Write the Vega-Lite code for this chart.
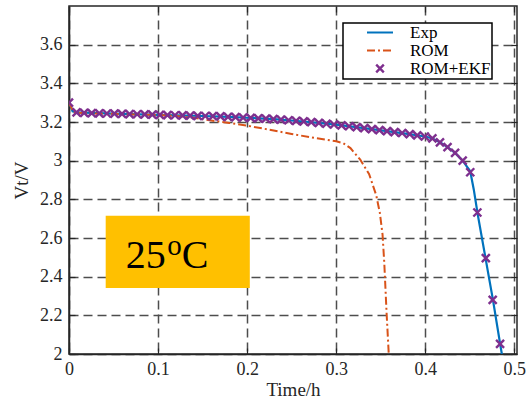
{
  "$schema": "https://vega.github.io/schema/vega-lite/v6.json",
  "width": 448,
  "height": 348,
  "autosize": {"type": "none"},
  "padding": {"left": 69, "top": 6, "right": 9, "bottom": 52},
  "background": "white",
  "config": {
    "view": {"stroke": "#262626", "strokeWidth": 1.5},
    "font": "Liberation Serif",
    "axis": {
      "labelFont": "Liberation Serif",
      "titleFont": "Liberation Serif",
      "labelFontSize": 18,
      "titleFontSize": 19,
      "titleFontWeight": "normal",
      "labelColor": "#262626",
      "titleColor": "#262626",
      "domainColor": "#262626",
      "domainWidth": 1.5,
      "tickColor": "#262626",
      "tickWidth": 1.2,
      "gridColor": "#4d4d4d",
      "gridWidth": 1.5,
      "gridOpacity": 1,
      "gridDash": [9, 5]
    }
  },
  "data": {
    "values": [
      {"s": "Exp", "t": 0.0, "v": 3.305},
      {"s": "Exp", "t": 0.004, "v": 3.255},
      {"s": "Exp", "t": 0.0085, "v": 3.25},
      {"s": "Exp", "t": 0.05, "v": 3.243},
      {"s": "Exp", "t": 0.1, "v": 3.237},
      {"s": "Exp", "t": 0.15, "v": 3.231},
      {"s": "Exp", "t": 0.18, "v": 3.227},
      {"s": "Exp", "t": 0.2, "v": 3.222},
      {"s": "Exp", "t": 0.23, "v": 3.215},
      {"s": "Exp", "t": 0.26, "v": 3.204},
      {"s": "Exp", "t": 0.3, "v": 3.186},
      {"s": "Exp", "t": 0.34, "v": 3.163},
      {"s": "Exp", "t": 0.38, "v": 3.139},
      {"s": "Exp", "t": 0.4, "v": 3.125},
      {"s": "Exp", "t": 0.408, "v": 3.115},
      {"s": "Exp", "t": 0.4165, "v": 3.095},
      {"s": "Exp", "t": 0.425, "v": 3.07},
      {"s": "Exp", "t": 0.4335, "v": 3.04},
      {"s": "Exp", "t": 0.442, "v": 3.0},
      {"s": "Exp", "t": 0.4505, "v": 2.945},
      {"s": "Exp", "t": 0.4545, "v": 2.85},
      {"s": "Exp", "t": 0.459, "v": 2.72},
      {"s": "Exp", "t": 0.4675, "v": 2.5},
      {"s": "Exp", "t": 0.476, "v": 2.28},
      {"s": "Exp", "t": 0.4845, "v": 2.04},
      {"s": "Exp", "t": 0.486, "v": 2.0},

      {"s": "ROM", "t": 0.0, "v": 3.3},
      {"s": "ROM", "t": 0.005, "v": 3.25},
      {"s": "ROM", "t": 0.02, "v": 3.245},
      {"s": "ROM", "t": 0.05, "v": 3.242},
      {"s": "ROM", "t": 0.1, "v": 3.236},
      {"s": "ROM", "t": 0.12, "v": 3.231},
      {"s": "ROM", "t": 0.14, "v": 3.222},
      {"s": "ROM", "t": 0.158, "v": 3.209},
      {"s": "ROM", "t": 0.18, "v": 3.195},
      {"s": "ROM", "t": 0.2, "v": 3.181},
      {"s": "ROM", "t": 0.225, "v": 3.16},
      {"s": "ROM", "t": 0.25, "v": 3.138},
      {"s": "ROM", "t": 0.275, "v": 3.118},
      {"s": "ROM", "t": 0.3, "v": 3.1},
      {"s": "ROM", "t": 0.308, "v": 3.09},
      {"s": "ROM", "t": 0.316, "v": 3.065},
      {"s": "ROM", "t": 0.327, "v": 3.005},
      {"s": "ROM", "t": 0.337, "v": 2.93},
      {"s": "ROM", "t": 0.345, "v": 2.82},
      {"s": "ROM", "t": 0.349, "v": 2.73},
      {"s": "ROM", "t": 0.352, "v": 2.62},
      {"s": "ROM", "t": 0.354, "v": 2.47},
      {"s": "ROM", "t": 0.3566, "v": 2.21},
      {"s": "ROM", "t": 0.359, "v": 2.0},

      {"s": "ROM+EKF", "t": 0.0, "v": 3.3},
      {"s": "ROM+EKF", "t": 0.0085, "v": 3.25},
      {"s": "ROM+EKF", "t": 0.017, "v": 3.247},
      {"s": "ROM+EKF", "t": 0.0255, "v": 3.246},
      {"s": "ROM+EKF", "t": 0.034, "v": 3.245},
      {"s": "ROM+EKF", "t": 0.0425, "v": 3.244},
      {"s": "ROM+EKF", "t": 0.051, "v": 3.243},
      {"s": "ROM+EKF", "t": 0.0595, "v": 3.242},
      {"s": "ROM+EKF", "t": 0.068, "v": 3.241},
      {"s": "ROM+EKF", "t": 0.0765, "v": 3.24},
      {"s": "ROM+EKF", "t": 0.085, "v": 3.239},
      {"s": "ROM+EKF", "t": 0.0935, "v": 3.238},
      {"s": "ROM+EKF", "t": 0.102, "v": 3.237},
      {"s": "ROM+EKF", "t": 0.1105, "v": 3.236},
      {"s": "ROM+EKF", "t": 0.119, "v": 3.235},
      {"s": "ROM+EKF", "t": 0.1275, "v": 3.234},
      {"s": "ROM+EKF", "t": 0.136, "v": 3.233},
      {"s": "ROM+EKF", "t": 0.1445, "v": 3.232},
      {"s": "ROM+EKF", "t": 0.153, "v": 3.231},
      {"s": "ROM+EKF", "t": 0.1615, "v": 3.23},
      {"s": "ROM+EKF", "t": 0.17, "v": 3.229},
      {"s": "ROM+EKF", "t": 0.1785, "v": 3.227},
      {"s": "ROM+EKF", "t": 0.187, "v": 3.225},
      {"s": "ROM+EKF", "t": 0.1955, "v": 3.223},
      {"s": "ROM+EKF", "t": 0.204, "v": 3.221},
      {"s": "ROM+EKF", "t": 0.2125, "v": 3.219},
      {"s": "ROM+EKF", "t": 0.221, "v": 3.217},
      {"s": "ROM+EKF", "t": 0.2295, "v": 3.215},
      {"s": "ROM+EKF", "t": 0.238, "v": 3.212},
      {"s": "ROM+EKF", "t": 0.2465, "v": 3.209},
      {"s": "ROM+EKF", "t": 0.255, "v": 3.206},
      {"s": "ROM+EKF", "t": 0.2635, "v": 3.203},
      {"s": "ROM+EKF", "t": 0.272, "v": 3.199},
      {"s": "ROM+EKF", "t": 0.2805, "v": 3.195},
      {"s": "ROM+EKF", "t": 0.289, "v": 3.191},
      {"s": "ROM+EKF", "t": 0.2975, "v": 3.187},
      {"s": "ROM+EKF", "t": 0.306, "v": 3.183},
      {"s": "ROM+EKF", "t": 0.3145, "v": 3.178},
      {"s": "ROM+EKF", "t": 0.323, "v": 3.173},
      {"s": "ROM+EKF", "t": 0.3315, "v": 3.168},
      {"s": "ROM+EKF", "t": 0.34, "v": 3.163},
      {"s": "ROM+EKF", "t": 0.3485, "v": 3.158},
      {"s": "ROM+EKF", "t": 0.357, "v": 3.153},
      {"s": "ROM+EKF", "t": 0.3655, "v": 3.148},
      {"s": "ROM+EKF", "t": 0.374, "v": 3.143},
      {"s": "ROM+EKF", "t": 0.3825, "v": 3.137},
      {"s": "ROM+EKF", "t": 0.391, "v": 3.131},
      {"s": "ROM+EKF", "t": 0.3995, "v": 3.125},
      {"s": "ROM+EKF", "t": 0.408, "v": 3.115},
      {"s": "ROM+EKF", "t": 0.4165, "v": 3.095},
      {"s": "ROM+EKF", "t": 0.425, "v": 3.07},
      {"s": "ROM+EKF", "t": 0.4335, "v": 3.04},
      {"s": "ROM+EKF", "t": 0.442, "v": 3.0},
      {"s": "ROM+EKF", "t": 0.4505, "v": 2.94},
      {"s": "ROM+EKF", "t": 0.4585, "v": 2.732},
      {"s": "ROM+EKF", "t": 0.468, "v": 2.496},
      {"s": "ROM+EKF", "t": 0.4757, "v": 2.28},
      {"s": "ROM+EKF", "t": 0.484, "v": 2.052}
    ]
  },
  "resolve": {"axis": {"x": "independent", "y": "independent"}},
  "layer": [
    {
      "transform": [{"filter": "datum.s === 'Exp'"}],
      "mark": {"type": "line", "strokeWidth": 2.2, "clip": true},
      "encoding": {
        "x": {
          "field": "t", "type": "quantitative",
          "scale": {"domain": [0, 0.503], "nice": false, "zero": false},
          "axis": {
            "title": "Time/h", "values": [0, 0.1, 0.2, 0.3, 0.4, 0.5], "format": "~g",
            "grid": true, "tickSize": -6, "labelPadding": 12, "titlePadding": 2, "labelFlush": false
          }
        },
        "y": {
          "field": "v", "type": "quantitative",
          "scale": {"domain": [2, 3.8], "nice": false, "zero": false},
          "axis": {
            "title": "Vt/V", "values": [2, 2.2, 2.4, 2.6, 2.8, 3, 3.2, 3.4, 3.6], "format": "~g",
            "grid": true, "tickSize": -6, "labelPadding": 13, "titlePadding": 8
          }
        },
        "color": {
          "field": "s", "type": "nominal",
          "scale": {"domain": ["Exp", "ROM", "ROM+EKF"], "range": ["#0072BD", "#D95319", "#7E2F8E"]},
          "legend": {
            "title": null,
            "orient": "none",
            "legendX": 274,
            "legendY": 17,
            "padding": 1,
            "rowPadding": 0,
            "symbolSize": 400,
            "labelFont": "Liberation Serif",
            "labelFontSize": 17,
            "labelColor": "black",
            "fillColor": "white",
            "strokeColor": "black",
            "symbolStrokeWidth": 2,
            "encode": {
              "legend": {"update": {"strokeWidth": {"value": 1.5}}},
              "symbols": {
                "update": {
                  "x": {"value": 36},
                  "shape": {"signal": "datum.value === 'ROM+EKF' ? 'M-0.38,-0.38L0.38,0.38M-0.38,0.38L0.38,-0.38' : 'M-1.3,0L1.3,0'"},
                  "strokeDash": {"signal": "datum.value === 'ROM' ? [8, 3, 2, 3] : []"},
                  "fill": {"value": "transparent"},
                  "fillOpacity": {"value": 0},
                  "strokeWidth": {"signal": "datum.value === 'ROM+EKF' ? 2.4 : 2"},
                  "opacity": {"value": 1}
                }
              },
              "labels": {"update": {"x": {"value": 66}}}
            }
          }
        }
      }
    },
    {
      "transform": [{"filter": "datum.s === 'ROM'"}],
      "mark": {"type": "line", "strokeWidth": 2, "strokeDash": [8, 3, 2, 3], "clip": true},
      "encoding": {
        "x": {"field": "t", "type": "quantitative",
          "axis": {"orient": "top", "labels": false, "title": null, "grid": false, "domain": false, "tickSize": -6, "values": [0, 0.1, 0.2, 0.3, 0.4, 0.5]}},
        "y": {"field": "v", "type": "quantitative",
          "axis": {"orient": "right", "labels": false, "title": null, "grid": false, "domain": false, "tickSize": -6, "values": [2, 2.2, 2.4, 2.6, 2.8, 3, 3.2, 3.4, 3.6]}},
        "color": {"field": "s", "type": "nominal"}
      }
    },
    {
      "transform": [{"filter": "datum.s === 'ROM+EKF'"}],
      "mark": {"type": "point", "shape": "M-1,-1L1,1M-1,1L1,-1", "filled": false, "size": 64, "strokeWidth": 2.4, "opacity": 1, "clip": true},
      "encoding": {
        "x": {"field": "t", "type": "quantitative", "axis": null},
        "y": {"field": "v", "type": "quantitative", "axis": null},
        "color": {"field": "s", "type": "nominal"}
      }
    },
    {
      "data": {"values": [{"label": "25°C"}]},
      "layer": [
        {
          "mark": {"type": "rect", "fill": "#FFC000", "stroke": null},
          "encoding": {
            "x": {"datum": 0.0412, "type": "quantitative", "axis": null},
            "x2": {"datum": 0.203},
            "y": {"datum": 2.715, "type": "quantitative", "axis": null},
            "y2": {"datum": 2.342}
          }
        },
        {
          "mark": {"type": "text", "text": "25", "font": "Liberation Serif", "fontSize": 40, "fontWeight": "normal", "align": "left", "baseline": "alphabetic", "fill": "black", "stroke": null},
          "encoding": {
            "x": {"datum": 0.0637, "type": "quantitative", "axis": null},
            "y": {"datum": 2.444, "type": "quantitative", "axis": null}
          }
        },
        {
          "mark": {"type": "text", "text": "o", "font": "Liberation Serif", "fontSize": 29, "fontWeight": "normal", "align": "left", "baseline": "alphabetic", "fill": "black", "stroke": null},
          "encoding": {
            "x": {"datum": 0.1103, "type": "quantitative", "axis": null},
            "y": {"datum": 2.513, "type": "quantitative", "axis": null}
          }
        },
        {
          "mark": {"type": "text", "text": "C", "font": "Liberation Serif", "fontSize": 40, "fontWeight": "normal", "align": "left", "baseline": "alphabetic", "fill": "black", "stroke": null},
          "encoding": {
            "x": {"datum": 0.1265, "type": "quantitative", "axis": null},
            "y": {"datum": 2.444, "type": "quantitative", "axis": null}
          }
        }
      ]
    }
  ]
}
